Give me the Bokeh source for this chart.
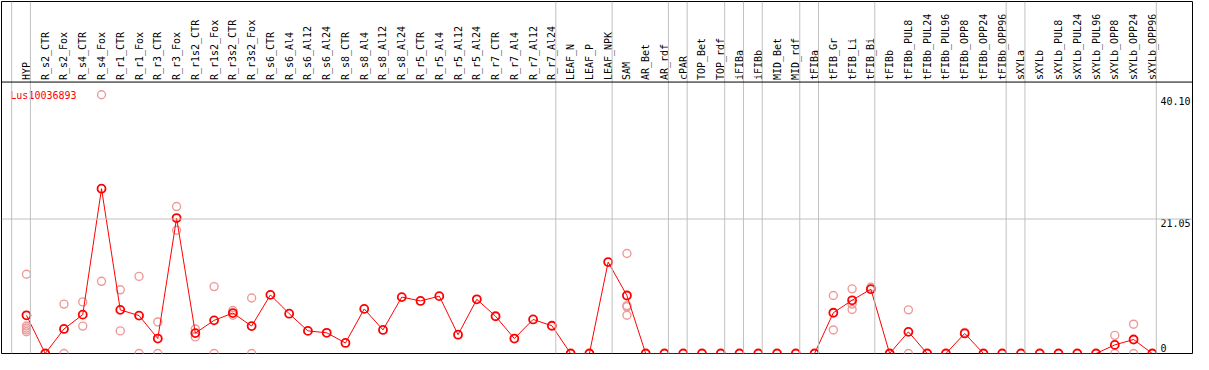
import math
from bokeh.plotting import figure
from bokeh.models import Range1d, Span
from bokeh.core.properties import value
from bokeh.embed import file_html
from bokeh.resources import INLINE

gene = "Lus10036893"

categories = [
    "HYP",
    "R_s2_CTR", "R_s2_Fox", "R_s4_CTR", "R_s4_Fox", "R_r1_CTR", "R_r1_Fox",
    "R_r3_CTR", "R_r3_Fox", "R_r1s2_CTR", "R_r1s2_Fox", "R_r3s2_CTR", "R_r3s2_Fox",
    "R_s6_CTR", "R_s6_Al4", "R_s6_Al12", "R_s6_Al24",
    "R_s8_CTR", "R_s8_Al4", "R_s8_Al12", "R_s8_Al24",
    "R_r5_CTR", "R_r5_Al4", "R_r5_Al12", "R_r5_Al24",
    "R_r7_CTR", "R_r7_Al4", "R_r7_Al12", "R_r7_Al24",
    "LEAF_N", "LEAF_P", "LEAF_NPK",
    "SAM", "AR_Bet", "AR_rdf",
    "cPAR",
    "TOP_Bet", "TOP_rdf",
    "iFIBa",
    "iFIBb",
    "MID_Bet", "MID_rdf",
    "tFIBa",
    "tFIB_Gr", "tFIB_Li", "tFIB_Bi",
    "tFIBb", "tFIBb_PUL8", "tFIBb_PUL24", "tFIBb_PUL96", "tFIBb_OPP8", "tFIBb_OPP24", "tFIBb_OPP96",
    "sXYLa",
    "sXYLb", "sXYLb_PUL8", "sXYLb_PUL24", "sXYLb_PUL96", "sXYLb_OPP8", "sXYLb_OPP24", "sXYLb_OPP96",
]

means = [
    5.98,
    0.0, 3.84, 6.08, 25.8, 6.83, 5.93,
    2.34, 21.2, 3.19, 5.19, 6.33, 4.29,
    9.18, 6.23, 3.54, 3.24,
    1.65, 6.98, 3.69, 8.83,
    8.23, 8.98, 2.94, 8.48,
    5.83, 2.34, 5.33, 4.34,
    0.0, 0.0, 14.31,
    9.08, 0.0, 0.0,
    0.0,
    0.0, 0.0,
    0.0,
    0.0,
    0.0, 0.0,
    0.0,
    6.38, 8.33, 10.07,
    0.0, 3.39, 0.0, 0.0, 3.14, 0.0, 0.0,
    0.0,
    0.0, 0.0, 0.0, 0.0, 1.35, 2.19, 0.0,
]

# number of consecutive columns in each group (separators drawn between groups)
group_sizes = [1, 28, 3, 3, 1, 2, 1, 1, 2, 1, 3, 7, 1, 7]

rep_categories = [
    "HYP", "HYP", "HYP", "HYP", "HYP",
    "R_s2_Fox", "R_s2_Fox",
    "R_s4_CTR", "R_s4_CTR",
    "R_s4_Fox", "R_s4_Fox",
    "R_r1_CTR", "R_r1_CTR",
    "R_r1_Fox", "R_r1_Fox",
    "R_r3_CTR", "R_r3_CTR",
    "R_r3_Fox", "R_r3_Fox",
    "R_r1s2_CTR", "R_r1s2_CTR",
    "R_r1s2_Fox", "R_r1s2_Fox",
    "R_r3s2_CTR", "R_r3s2_CTR",
    "R_r3s2_Fox", "R_r3s2_Fox",
    "SAM", "SAM", "SAM", "SAM",
    "tFIB_Gr", "tFIB_Gr",
    "tFIB_Li", "tFIB_Li", "tFIB_Li",
    "tFIB_Bi",
    "tFIBb_PUL8", "tFIBb_PUL8",
    "tFIBb_OPP8",
    "sXYLb_OPP8", "sXYLb_OPP8",
    "sXYLb_OPP24", "sXYLb_OPP24",
]
rep_values = [
    12.4, 4.3, 4.0, 3.7, 3.4,
    7.73, 0.0,
    8.08, 4.29,
    40.5, 11.3,
    9.97, 3.54,
    12.07, 0.0,
    4.94, 0.0,
    23.0, 19.3,
    3.84, 2.6,
    10.47, 0.0,
    6.73, 5.98,
    8.68, 0.0,
    15.66, 7.5, 7.3, 5.98,
    9.08, 3.69,
    10.12, 7.73, 6.88,
    10.37,
    6.83, 0.0,
    3.3,
    2.84, 0.0,
    4.59, 0.0,
]

tick_values = [0, 21.05, 40.10]
tick_labels = ["0", "21.05", "40.10"]
grid_values = [21.05]

# ---- layout constants ----
HEADER_Y = 42.49        # data value where the header band starts
Y_TOP = 55.1
X_LEFT, X_RIGHT = -1.33, 62.14
MONO = value("DejaVu Sans Mono")
GRID = "#c0c0c0"

p = figure(width=1193, height=354, output_backend="svg", toolbar_location=None,
           x_range=Range1d(X_LEFT, X_RIGHT), y_range=Range1d(0, Y_TOP),
           min_border=1, min_border_left=1, min_border_right=1,
           min_border_top=1, min_border_bottom=1)
p.axis.visible = False
p.xgrid.visible = False
p.ygrid.visible = False
p.outline_line_color = "black"
p.outline_line_alpha = 1.0
p.outline_line_width = 1
p.background_fill_color = "white"
p.border_fill_color = "white"

xs = list(range(len(categories)))

# group separators
ends = [-1]
acc = -1
for g in group_sizes:
    acc += g
    ends.append(acc)
for e in ends:
    p.add_layout(Span(location=e + 0.21, dimension="height", line_color=GRID, line_width=1))

for g in grid_values:
    p.add_layout(Span(location=g, dimension="width", line_color=GRID, line_width=1))

p.add_layout(Span(location=HEADER_Y, dimension="width", line_color="black", line_width=1))

# column labels (rotated)
p.text(x=xs, y=[HEADER_Y] * len(xs), text=categories, angle=math.pi / 2,
       text_align="left", text_baseline="middle", y_offset=-2,
       text_font=MONO, text_font_size="10px", text_color="black")

# replicates
rep_x = [categories.index(c) for c in rep_categories]
p.scatter(rep_x, rep_values, marker="circle", size=8, fill_color=None,
          line_color="#ef9a9a", line_width=1.4)

# mean line and markers
p.line(xs, means, line_color="red", line_width=1)
p.scatter(xs, means, marker="circle", size=8, fill_color=None,
          line_color="red", line_width=1.8)

# gene label
p.text(x=[X_LEFT + 0.47], y=[41.3], text=[gene], text_align="left", text_baseline="top",
       text_font=MONO, text_font_size="10px", text_color="red")

# value tick labels drawn inside, at right edge
nz_vals = [v for v in tick_values if v != 0]
nz_labs = [l for v, l in zip(tick_values, tick_labels) if v != 0]
p.text(x=[X_RIGHT] * len(nz_vals), y=nz_vals, text=nz_labs, text_align="right",
       x_offset=-2, text_baseline="top", text_font=MONO, text_font_size="10px",
       text_color="black")
z_labs = [l for v, l in zip(tick_values, tick_labels) if v == 0]
p.text(x=[X_RIGHT] * len(z_labs), y=[0] * len(z_labs), text=z_labs, text_align="left",
       x_offset=-32, text_baseline="bottom", y_offset=-2, text_font=MONO,
       text_font_size="10px", text_color="black")

open("out.html", "w").write(file_html(p, INLINE))
